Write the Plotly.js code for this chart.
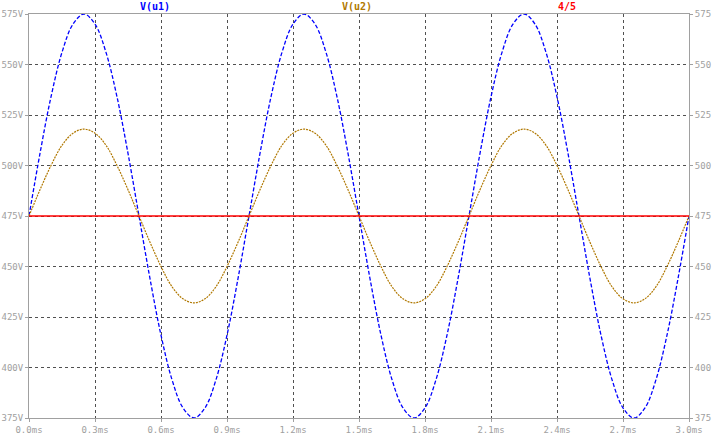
<!DOCTYPE html>
<html><head><meta charset="utf-8">
<script src="https://cdn.plot.ly/plotly-3.0.1.min.js"></script>
<style>html,body{margin:0;padding:0;background:#fff}#c{width:714px;height:436px}</style>
</head><body><div id="c"></div>
<script>
var timeMs = [];
for (var i = 0; i <= 60; i++) timeMs.push(+(i * 0.05).toFixed(2));
var cycleU1 = [475, 506, 534, 556, 570, 575, 570, 556, 534, 506, 475, 444, 416, 394, 380, 375, 380, 394, 416, 444];
var cycleU2 = [475, 488, 500, 510, 516, 518, 516, 510, 500, 488, 475, 462, 450, 440, 434, 432, 434, 440, 450, 462];
var vU1 = cycleU1.concat(cycleU1, cycleU1, [475]);
var vU2 = cycleU2.concat(cycleU2, cycleU2, [475]);
var vRef = [475, 475];
var refTime = [0, 3];
var xTicks = [0, 0.3, 0.6, 0.9, 1.2, 1.5, 1.8, 2.1, 2.4, 2.7, 3.0];
var xTickText = ["0.0ms","0.3ms","0.6ms","0.9ms","1.2ms","1.5ms","1.8ms","2.1ms","2.4ms","2.7ms","3.0ms"];
var yTicks = [375, 400, 425, 450, 475, 500, 525, 550, 575];
var yTickTextL = ["375V","400V","425V","450V","475V","500V","525V","550V","575V"];
var yTickTextR = ["375","400","425","450","475","500","525","550","575"];
var seriesNames = ["V(u1)", "V(u2)", "4/5"];

var tickFont = {family: "DejaVu Sans Mono, monospace", size: 9, color: "#a0a0a0"};
var labelFont = function (c) { return {family: "DejaVu Sans Mono, monospace", size: 10, color: c, weight: "bold"}; };
var traces = [
  {x: timeMs, y: vU1, name: seriesNames[0], mode: "lines", line: {color: "#0000ff", width: 1.3, dash: "4px,2px", shape: "spline"}},
  {x: timeMs, y: vU2, name: seriesNames[1], mode: "lines", line: {color: "#b07800", width: 1.2, dash: "2px,1px", shape: "spline"}},
  {x: refTime, y: vRef, name: seriesNames[2], mode: "lines", line: {color: "#ff0000", width: 1.3}},
  {x: refTime, y: vRef, yaxis: "y2", mode: "lines", line: {width: 0}, showlegend: false, hoverinfo: "skip"}
];
var layout = {
  width: 714, height: 436,
  margin: {l: 29, r: 25, t: 14, b: 18},
  paper_bgcolor: "#ffffff", plot_bgcolor: "#ffffff",
  showlegend: false,
  xaxis: {range: [0, 3], tickvals: xTicks, ticktext: xTickText, tickfont: tickFont,
    showgrid: true, gridcolor: "#505050", griddash: "dot", gridwidth: 1,
    showline: true, linecolor: "#a0a0a0", linewidth: 1, mirror: true,
    ticks: "outside", ticklen: 3, tickcolor: "#a0a0a0", zeroline: false},
  yaxis: {range: [375, 575], tickvals: yTicks, ticktext: yTickTextL, tickfont: tickFont,
    showgrid: true, gridcolor: "#505050", griddash: "dot", gridwidth: 1,
    showline: true, linecolor: "#a0a0a0", linewidth: 1, mirror: true,
    ticks: "outside", ticklen: 3, tickcolor: "#a0a0a0", zeroline: false},
  yaxis2: {range: [375, 575], overlaying: "y", side: "right", tickvals: yTicks, ticktext: yTickTextR,
    tickfont: tickFont, showgrid: false, zeroline: false, ticks: "outside", ticklen: 3, tickcolor: "#a0a0a0"},
  annotations: [
    {text: seriesNames[0], xref: "paper", yref: "paper", x: 0.165, y: 1, yanchor: "bottom", showarrow: false, font: labelFont("#0000ff")},
    {text: seriesNames[1], xref: "paper", yref: "paper", x: 0.497, y: 1, yanchor: "bottom", showarrow: false, font: labelFont("#b07800")},
    {text: seriesNames[2], xref: "paper", yref: "paper", x: 0.832, y: 1, yanchor: "bottom", showarrow: false, font: labelFont("#ff0000")}
  ]
};
Plotly.newPlot("c", traces, layout, {displayModeBar: false, staticPlot: true});
</script></body></html>
